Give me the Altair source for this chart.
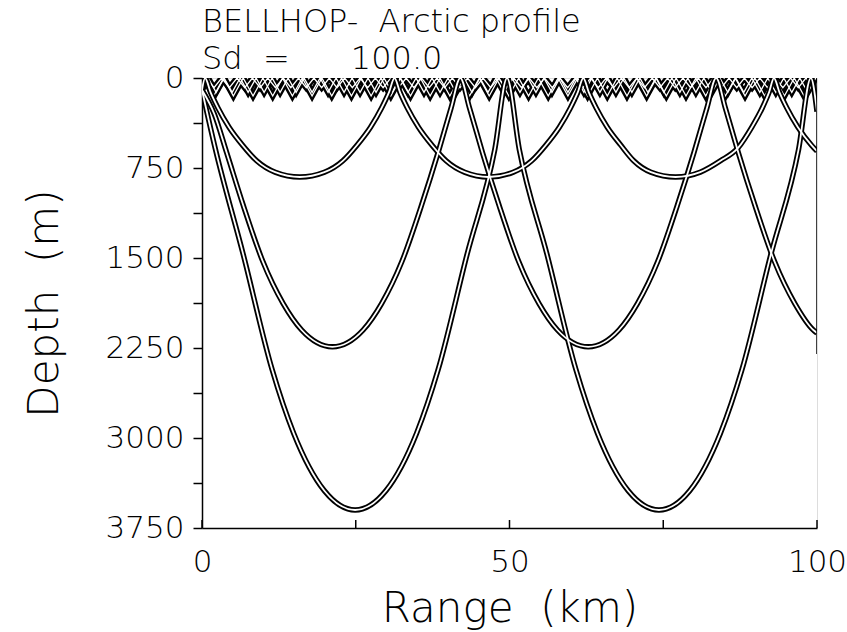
import altair as alt
import pandas as pd

# ---------------- data ----------------
# Ray family A (turning depth ~825 m)
A_range = [0, 0.5, 1.4, 2.6, 4.4, 6.6, 8.9, 11.9, 15.9, 19.9, 22.9, 25.2, 27.4, 29.2, 30.4, 31.3,
           32.2, 33.4, 35.2, 37.4, 39.7, 42.7, 46.6, 50.6, 53.6, 55.9, 58.1, 59.9, 61.1, 62.0,
           62.9, 64.1, 65.9, 68.1, 70.2, 73.0, 77.0, 81.0, 84.3, 87.2, 89.4, 91.1, 92.2, 93.0,
           93.9, 95.1, 96.9, 99.1, 100]
A_depth = [100, 0, 120, 250, 410, 560, 690, 785, 825, 785, 690, 560, 410, 250, 120, 0,
           120, 250, 410, 560, 690, 785, 825, 785, 690, 560, 410, 250, 120, 0,
           120, 250, 410, 560, 690, 785, 825, 785, 690, 580, 410, 250, 120, 0,
           120, 250, 410, 560, 610]

# Ray family B (turning depth ~2240 m)
B_range = [0, 2.0, 4.0, 6.7, 9.9, 13.2, 16.2, 21.2, 26.2, 29.2, 32.5, 35.7, 38.4, 40.5, 42.0,
           43.5, 45.6, 48.3, 51.5, 54.8, 57.8, 62.8, 67.8, 70.8, 74.1, 77.3, 80.0, 82.1, 83.6,
           85.1, 87.2, 89.9, 93.1, 96.4, 99.4, 100]
B_depth = [100, 300, 620, 1060, 1530, 1880, 2100, 2240, 2100, 1880, 1530, 1060, 620, 250, 0,
           250, 620, 1060, 1530, 1880, 2100, 2240, 2100, 1880, 1530, 1060, 620, 250, 0,
           250, 620, 1060, 1530, 1880, 2100, 2125]

# Ray family C (turning depth ~3600 m)
C_range = [0, 2.2, 6.7, 11.4, 14.9, 19.9, 24.9, 29.9, 34.9, 38.4, 43.1, 47.6, 49.6,
           51.6, 56.1, 60.8, 64.3, 69.3, 74.3, 79.3, 84.3, 87.8, 92.5, 97.0, 99.0, 100]
C_depth = [100, 597, 1470, 2430, 2960, 3440, 3600, 3440, 2960, 2430, 1470, 597, 0,
           597, 1470, 2430, 2960, 3440, 3600, 3440, 2960, 2430, 1470, 597, 0, 280]

# Surface-duct rays: surface bounce ranges, trough ranges, trough depth
D1_surface = [0.3, 3.5, 6.7, 9.9, 13.1, 16.3, 19.5, 22.7, 25.9, 29.1, 32.3, 35.5, 38.7, 41.9,
              45.1, 48.3, 51.5, 54.7, 57.9, 61.1, 64.3, 67.5, 70.7, 73.9, 77.1, 80.3, 83.5,
              86.7, 89.9, 93.1, 96.3, 99.5]
D1_trough = [1.9, 5.1, 8.3, 11.5, 14.7, 17.9, 21.1, 24.3, 27.5, 30.7, 33.9, 37.1, 40.3, 43.5,
             46.7, 49.9, 53.1, 56.3, 59.5, 62.7, 65.9, 69.1, 72.3, 75.5, 78.7, 81.9, 85.1,
             88.3, 91.5, 94.7, 97.9]
D1_depth = 150

D2_surface = [1.0, 3.6, 6.2, 8.8, 11.4, 14.0, 16.6, 19.2, 21.8, 24.4, 27.0, 29.6, 32.2, 34.8,
              37.4, 40.0, 42.6, 45.2, 47.8, 50.4, 53.0, 55.6, 58.2, 60.8, 63.4, 66.0, 68.6,
              71.2, 73.8, 76.4, 79.0, 81.6, 84.2, 86.8, 89.4, 92.0, 94.6, 97.2, 99.8]
D2_trough = [2.3, 4.9, 7.5, 10.1, 12.7, 15.3, 17.9, 20.5, 23.1, 25.7, 28.3, 30.9, 33.5, 36.1,
             38.7, 41.3, 43.9, 46.5, 49.1, 51.7, 54.3, 56.9, 59.5, 62.1, 64.7, 67.3, 69.9,
             72.5, 75.1, 77.7, 80.3, 82.9, 85.5, 88.1, 90.7, 93.3, 95.9, 98.5]
D2_depth = 120

D3_surface = [0.7, 3.2, 5.7, 8.2, 10.7, 13.2, 15.7, 18.2, 20.7, 23.2, 25.7, 28.2, 30.7, 33.2,
              35.7, 38.2, 40.7, 43.2, 45.7, 48.2, 50.7, 53.2, 55.7, 58.2, 60.7, 63.2, 65.7,
              68.2, 70.7, 73.2, 75.7, 78.2, 80.7, 83.2, 85.7, 88.2, 90.7, 93.2, 95.7, 98.2]
D3_trough = [1.95, 4.45, 6.95, 9.45, 11.95, 14.45, 16.95, 19.45, 21.95, 24.45, 26.95, 29.45,
             31.95, 34.45, 36.95, 39.45, 41.95, 44.45, 46.95, 49.45, 51.95, 54.45, 56.95, 59.45,
             61.95, 64.45, 66.95, 69.45, 71.95, 74.45, 76.95, 79.45, 81.95, 84.45, 86.95, 89.45,
             91.95, 94.45, 96.95, 99.45]
D3_depth = 80

SOURCE_DEPTH = 100.0

EDGE_range = [100, 100]
EDGE_depth = [0, 2300]

X_TICKS = [0, 25, 50, 75, 100]
X_LABELS = [0, 50, 100]
Y_TICKS = [0, 375, 750, 1125, 1500, 1875, 2250, 2625, 3000, 3375, 3750]

# ---------------- tables ----------------
def ray_frame(name, rs, ds):
    return pd.DataFrame({"ray": name, "order": list(range(len(rs))), "range": rs, "depth": ds})


def duct_frame(name, surf, trough, dmax):
    pts = [(0.0, SOURCE_DEPTH)] + [(r, 0.0) for r in surf] + [(r, float(dmax)) for r in trough]
    pts.sort()
    return ray_frame(name, [p[0] for p in pts], [p[1] for p in pts])


main_df = pd.concat([ray_frame("A", A_range, A_depth),
                     ray_frame("B", B_range, B_depth),
                     ray_frame("C", C_range, C_depth)], ignore_index=True)
duct_df = pd.concat([duct_frame("D1", D1_surface, D1_trough, D1_depth),
                     duct_frame("D2", D2_surface, D2_trough, D2_depth),
                     duct_frame("D3", D3_surface, D3_trough, D3_depth)], ignore_index=True)
edge_df = ray_frame("edge", EDGE_range, EDGE_depth)
tick_df = pd.DataFrame({"range": X_TICKS})

FONT = "DejaVu Sans"
WEIGHT = 200
W, H = 615, 450

x_axis = alt.Axis(values=X_LABELS, title="Range\u00a0\u00a0(km)", grid=False, ticks=False, tickSize=0,
                  labelFontSize=31, labelFont=FONT, labelFontWeight=WEIGHT, labelColor="black",
                  labelPadding=19, labelFlush=False, labelOverlap=False, format="d",
                  titleFontSize=42, titleFont=FONT, titleFontWeight=WEIGHT, titleColor="black",
                  titleX=W / 2, titleY=93, titleAlign="center", titleBaseline="alphabetic",
                  domainColor="black", domainWidth=1.5)
y_axis = alt.Axis(values=Y_TICKS, labelExpr="datum.value % 750 === 0 ? datum.label : ''",
                  title="Depth\u00a0\u00a0(m)", grid=False, tickSize=9, tickWidth=1.5, tickColor="black",
                  labelFontSize=31, labelFont=FONT, labelFontWeight=WEIGHT, labelColor="black",
                  labelPadding=9, format="d",
                  titleFontSize=42, titleFont=FONT, titleFontWeight=WEIGHT, titleColor="black",
                  titleX=-158, titleY=H / 2, titleAngle=270, titleAlign="center",
                  titleBaseline="middle", domainColor="black", domainWidth=1.5)

xs = alt.Scale(domain=[0, 100], nice=False)
ys = alt.Scale(domain=[0, 3750], reverse=True, nice=False)


def enc(chart):
    return chart.encode(
        x=alt.X("range:Q", scale=xs, axis=x_axis),
        y=alt.Y("depth:Q", scale=ys, axis=y_axis),
        detail="ray:N",
        order="order:Q",
    )


duct_black = enc(alt.Chart(duct_df).mark_line(color="black", strokeWidth=6, clip=True))
duct_white = enc(alt.Chart(duct_df).mark_line(color="white", strokeWidth=1.3, clip=True))
main_black = enc(alt.Chart(main_df).mark_line(color="black", strokeWidth=5.4, interpolate="monotone", clip=True))
main_white = enc(alt.Chart(main_df).mark_line(color="white", strokeWidth=1.8, interpolate="monotone", clip=True))
edge = enc(alt.Chart(edge_df).mark_line(color="black", strokeWidth=1.5, clip=True))
ticks = alt.Chart(tick_df).mark_rule(color="black", strokeWidth=1.5).encode(
    x=alt.X("range:Q", scale=xs, axis=x_axis),
    y=alt.value(H),
    y2=alt.value(H - 8),
)

chart = alt.layer(duct_black, duct_white, main_black, main_white, edge, ticks).properties(
    width=W,
    height=H,
    padding={"left": 202, "top": 78, "right": 30, "bottom": 104},
    autosize=alt.AutoSizeParams(type="none"),
    title=alt.TitleParams(
        text=["BELLHOP-\u00a0\u00a0Arctic profile",
              "Sd\u00a0\u00a0=\u00a0\u00a0\u00a0\u00a0\u00a0\u00a0100.0"],
        anchor="start", frame="group", font=FONT, fontSize=32, fontWeight=WEIGHT,
        lineHeight=37, color="black", offset=8, dy=22,
    ),
).configure_view(stroke=None).configure(background="white")

chart.save("out.html", embed_options={"renderer": "svg", "actions": False})
